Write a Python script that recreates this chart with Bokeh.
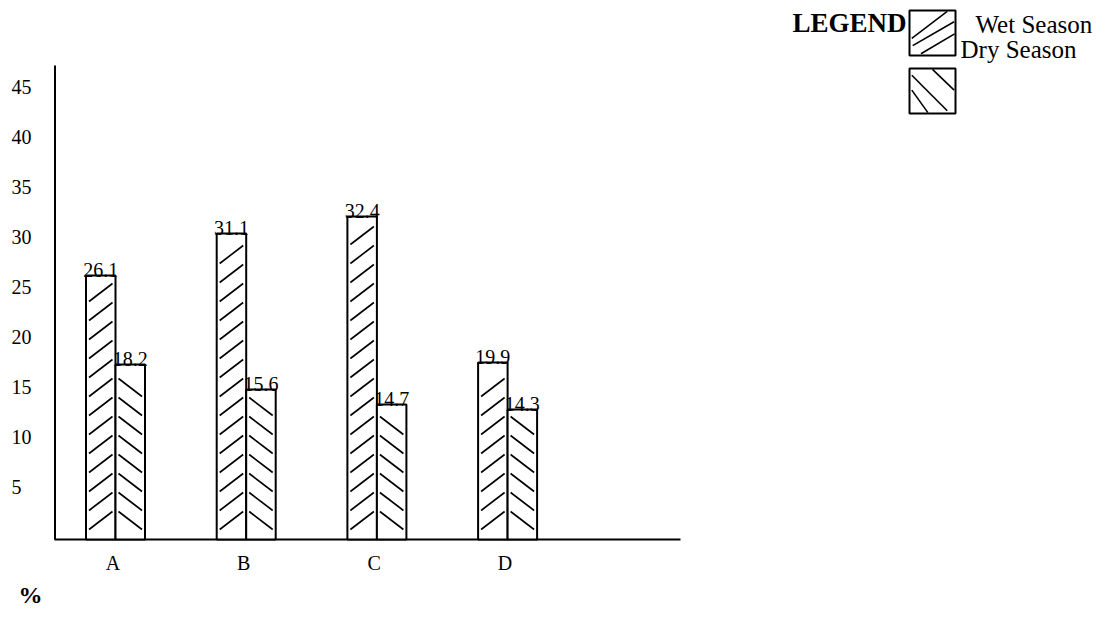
import numpy as np
from bokeh.plotting import figure
from bokeh.models import Range1d
from bokeh.embed import file_html
from bokeh.resources import INLINE
from bokeh.core.properties import value

# ---------------- data ----------------
categories = ["A", "B", "C", "D"]
series_names = ["Wet Season", "Dry Season"]
wet_height = [26.4, 30.6, 32.3, 17.7]      # drawn bar heights
dry_height = [17.5, 15.0, 13.5, 13.0]
wet_label = ["26.1", "31.1", "32.4", "19.9"]  # printed value labels
dry_label = ["18.2", "15.6", "14.7", "14.3"]
y_ticks = [5, 10, 15, 20, 25, 30, 35, 40, 45]

# ---------------- layout helpers ----------------
W, H = 1096, 610
PX_PER_X = 130.7
PX_PER_Y = 10.0
BASE_PAGE_Y = 539.0
FIRST_CAT_PAGE_X = 115.0

x_start = -FIRST_CAT_PAGE_X / PX_PER_X
x_end = x_start + W / PX_PER_X
y_end = BASE_PAGE_Y / PX_PER_Y
y_start = -(H - BASE_PAGE_Y) / PX_PER_Y


def px2x(px):
    return x_start + px / PX_PER_X


def py2y(py):
    return (BASE_PAGE_Y - py) / PX_PER_Y


FONT = value("Liberation Serif")

p = figure(width=W, height=H, output_backend="svg", toolbar_location=None,
           x_range=Range1d(x_start, x_end), y_range=Range1d(y_start, y_end),
           x_axis_location=None, y_axis_location=None, min_border=0)
p.outline_line_color = None
p.grid.visible = False
p.background_fill_color = "white"
p.border_fill_color = "white"

# ---------------- axes ----------------
p.segment(x0=[px2x(54.5)], y0=[0], x1=[px2x(54.5)], y1=[py2y(65)],
          line_color="black", line_width=2)
p.segment(x0=[px2x(54)], y0=[0], x1=[px2x(680)], y1=[0],
          line_color="black", line_width=2)
p.text(x=[px2x(11)] * len(y_ticks), y=y_ticks, text=[str(t) for t in y_ticks],
       text_align="left", text_baseline="middle", y_offset=-3, text_font=FONT,
       text_font_size="20px", text_color="black")

# ---------------- bars ----------------
xs = np.arange(len(categories), dtype=float)
bw = 29.5 / PX_PER_X
off = bw / 2
wet_x = xs - off
dry_x = xs + off


def hatch(xc, h, forward):
    x0s, y0s, x1s, y1s = [], [], [], []
    pad = 3.0 / PX_PER_X
    rise, step, start, top_margin = 1.8, 1.9, 1.0, 0.5
    left, right = xc - bw / 2 + pad, xc + bw / 2 - pad
    y = start
    while y + rise <= h - top_margin:
        if forward:
            x0s.append(left); y0s.append(y); x1s.append(right); y1s.append(y + rise)
        else:
            x0s.append(left); y0s.append(y + rise); x1s.append(right); y1s.append(y)
        y += step
    return x0s, y0s, x1s, y1s


hx0, hy0, hx1, hy1 = [], [], [], []
for xc, h in zip(wet_x, wet_height):
    a, b, c, d = hatch(xc, h, True)
    hx0 += a; hy0 += b; hx1 += c; hy1 += d
for xc, h in zip(dry_x, dry_height):
    a, b, c, d = hatch(xc, h, False)
    hx0 += a; hy0 += b; hx1 += c; hy1 += d

p.vbar(x=wet_x, top=wet_height, bottom=0, width=bw, fill_color="white",
       line_color="black", line_width=2)
p.vbar(x=dry_x, top=dry_height, bottom=0, width=bw, fill_color="white",
       line_color="black", line_width=2)
p.segment(x0=hx0, y0=hy0, x1=hx1, y1=hy1, line_color="black", line_width=1.6)

# value labels
p.text(x=wet_x, y=wet_height, text=wet_label, text_align="center",
       text_baseline="bottom", y_offset=1, text_font=FONT,
       text_font_size="20px", text_color="black")
p.text(x=dry_x, y=dry_height, text=dry_label, text_align="center",
       text_baseline="bottom", y_offset=1, text_font=FONT,
       text_font_size="20px", text_color="black")

# category labels
p.text(x=xs - 0.02, y=[py2y(562)] * len(categories), text=categories,
       text_align="center", text_baseline="middle", text_font=FONT,
       text_font_size="20px", text_color="black")

# "%" unit label
p.text(x=[px2x(18)], y=[py2y(594)], text=["%"], text_align="left",
       text_baseline="middle", text_font=FONT, text_font_size="24px",
       text_font_style="bold", text_color="black")

# ---------------- legend ----------------
box_w = 46 / PX_PER_X
box_h = 45 / PX_PER_Y
box_cx = px2x(932)
box_cy = [py2y(32.5), py2y(90.5)]
p.rect(x=[box_cx, box_cx], y=box_cy, width=box_w, height=box_h,
       fill_color="white", line_color="black", line_width=2)

# hatch inside legend boxes (fractions of box)
lx0, ly0, lx1, ly1 = [], [], [], []
bl = box_cx - box_w / 2
for (fx0, fy0, fx1, fy1) in [(0.05, 0.38, 0.82, 0.98), (0.07, 0.22, 0.97, 0.75),
                             (0.25, 0.04, 0.98, 0.48)]:
    bb = box_cy[0] - box_h / 2
    lx0.append(bl + fx0 * box_w); ly0.append(bb + fy0 * box_h)
    lx1.append(bl + fx1 * box_w); ly1.append(bb + fy1 * box_h)
for (fx0, fy0, fx1, fy1) in [(0.05, 0.85, 0.82, 0.06), (0.05, 0.52, 0.40, 0.02),
                             (0.50, 0.98, 0.97, 0.52)]:
    bb = box_cy[1] - box_h / 2
    lx0.append(bl + fx0 * box_w); ly0.append(bb + fy0 * box_h)
    lx1.append(bl + fx1 * box_w); ly1.append(bb + fy1 * box_h)
p.segment(x0=lx0, y0=ly0, x1=lx1, y1=ly1, line_color="black", line_width=1.6)

p.text(x=[px2x(906)], y=[py2y(22)], text=["LEGEND"], text_align="right",
       text_baseline="middle", text_font=FONT, text_font_size="27px",
       text_font_style="bold", text_color="black")
p.text(x=[px2x(975), px2x(960)], y=[py2y(24), py2y(49)], text=series_names,
       text_align="left", text_baseline="middle", text_font=FONT,
       text_font_size="25px", text_color="black")

open("out.html", "w").write(file_html(p, INLINE))
